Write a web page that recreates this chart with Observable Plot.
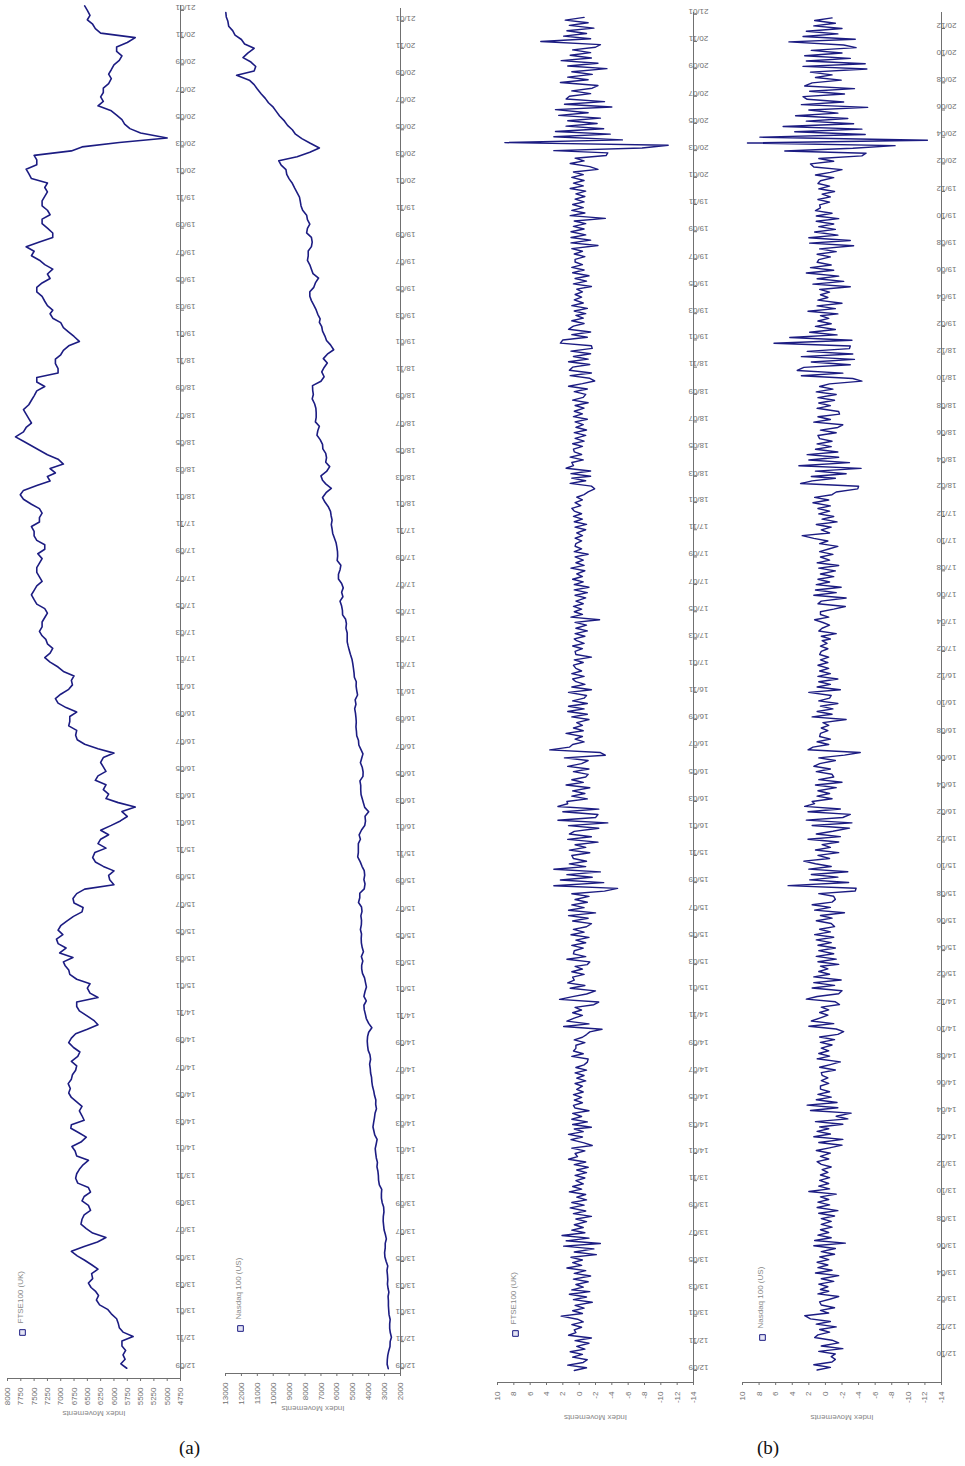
<!DOCTYPE html>
<html><head><meta charset="utf-8">
<script src="https://cdn.jsdelivr.net/npm/d3@7"></script>
<script src="https://cdn.jsdelivr.net/npm/@observablehq/plot@0.6"></script>
<style>
body{margin:0;background:#fff;width:965px;height:1466px;position:relative;overflow:hidden;font-family:"Liberation Sans",Arial,sans-serif}
.p{position:absolute;top:0}
.cap{position:absolute;top:1437px;font-family:"Liberation Serif","Times New Roman",serif;font-size:19px;color:#111}
</style></head><body>
<div id="p1" class="p" style="left:0px"></div>
<div id="p2" class="p" style="left:215px"></div>
<div id="p3" class="p" style="left:487px"></div>
<div id="p4" class="p" style="left:732px"></div>
<div class="cap" style="left:179px">(a)</div>
<div class="cap" style="left:757px">(b)</div>
<script>
// ---- Data, levels: 3 readings per month from Sep 2012 to Jan 2021
const ftseLevel = [
5760,5870,5790, 5830,5780,5850, 5850,5640,5830, 5900,5920,5950,
6050,6120,6270, 6330,6290,6350, 6430,6480,6400, 6420,6300,6420, 6550,6690,6800, 6560,6310,6150, 6400,6520,6620, 6600,6560,6440, 6480,6600,6560, 6440,6480,6680, 6720,6700,6650, 6580,6480,6700,
6730,6790,6620, 6520,6660,6810, 6800,6560,6600, 6650,6600,6700, 6800,6850,6820, 6860,6800,6780, 6720,6700,6800, 6680,6640,6760, 6850,6800,6720, 6500,6300,6380, 6520,6650,6700, 6700,6300,6450,
6500,6450,6700, 6830,6850,6920, 6950,6770,7020, 6900,7050,7080, 6960,7050,7000, 6880,6760,6600, 6580,6750,6770, 6700,6550,6000, 6080,6100,6000, 6200,6350,6400, 6360,6150,6300, 6250,6100,6250,
6050,5880,5750, 5850,5600,5920, 6150,6100,6200, 6150,6350,6300, 6150,6200,6250, 6200,6000,6300, 6550,6690,6720, 6700,6850,6830, 6830,6700,6900, 7050,7100,7000, 6850,6780,6800, 6750,6950,7050,
7200,7300,7200, 7150,7250,7280, 7350,7400,7350, 7350,7300,7250, 7300,7450,7500, 7550,7500,7450, 7350,7400,7450, 7450,7400,7350, 7430,7300,7300, 7450,7500,7500, 7550,7400,7400, 7350,7400,7550,
7700,7760,7700, 7450,7200,7250, 7100,7200,6950, 7050,7250,7400, 7550,7700,7850, 7700,7650,7550, 7600,7650,7700, 7600,7550,7500, 7450,7300,7450, 7450,7050,7050, 7100,7100,7000, 6950,6850,6650,
6750,6850,6950, 7000,7150,7200, 7150,7250,7300, 7350,7450,7450, 7350,7200,7250, 7150,7300,7400, 7550,7500,7650, 7400,7150,7150, 7250,7350,7350, 7200,7250,7350, 7350,7300,7250, 7300,7250,7550,
7600,7650,7450, 7450,7500,6800, 6600,5900,5000, 5500,5700,5800, 5850,5950,6050, 6300,6200,6250, 6200,6200,6100, 6050,6100,6050, 6000,5900,5850, 5950,5950,5750, 5600,6250,6350, 6400,6500,6450,
6500,6550
];
const nasdaqLevel = [
2770,2840,2830, 2800,2740,2660, 2650,2570,2640, 2680,2680,2650,
2720,2740,2760, 2760,2780,2730, 2780,2820,2800, 2820,2850,2800, 2900,2980,3000, 2960,2960,2890, 2950,3030,3060, 3090,3080,3040, 3060,3150,3200, 3200,3180,3330, 3380,3390,3420, 3480,3450,3520,
3560,3590,3530, 3470,3620,3680, 3730,3690,3640, 3600,3510,3560, 3550,3630,3680, 3760,3800,3820, 3880,3900,3940, 3880,3920,4030, 4070,4090,4070, 4000,3800,4000, 4150,4210,4280, 4300,4150,4300,
4230,4140,4200, 4260,4390,4440, 4440,4370,4460, 4330,4410,4460, 4470,4450,4520, 4460,4450,4490, 4420,4450,4640, 4560,4560,4280, 4230,4300,4250, 4280,4420,4530, 4690,4650,4650, 4650,4520,4600,
4450,4250,4200, 4230,4000,4250, 4320,4400,4480, 4500,4500,4550, 4360,4350,4400, 4520,4440,4360, 4490,4620,4640, 4750,4770,4800, 4780,4800,4830, 4880,4800,4850, 4700,4750,4790, 4780,4900,4920,
4960,5000,5050, 5150,5230,5300, 5350,5350,5350, 5430,5400,5450, 5640,5650,5700, 5800,5620,5700, 5600,5700,5900, 5900,5800,5750, 5980,5950,5960, 6000,6050,6150, 6260,6300,6350, 6300,6360,6400,
6550,6750,6900, 6680,6350,6700, 6900,7000,6650, 6450,6700,6650, 6700,6880,6900, 7050,7250,7200, 7100,7350,7300, 7300,7320,7400, 7550,7480,7520, 7530,7000,6800, 6950,6800,6600, 6850,6600,6200,
6400,6650,6750, 6900,6950,7100, 7050,7200,7300, 7450,7600,7700, 7700,7450,7350, 7150,7500,7600, 7700,7850,7800, 7800,7600,7550, 7600,7900,7850, 7700,7850,7900, 8150,8250,8300, 8350,8500,8650,
8800,9000,9150, 9200,9500,9650, 8500,7700,7100, 7700,8200,8600, 8800,9100,9300, 9600,9800,10000, 10300,10500,10750, 11000,11200,11500, 12300,11200,11100, 11400,11900,11600, 11200,11800,12000, 12400,12550,12800,
12850,12950,12980
];
// ---- Daily movements (%): 5 readings per month from Sep 2012 to Dec 2020
const ftseMoves = [
0.6,-0.9,1.4,-0.5,-1.0, 0.8,-0.4,1.1,-0.7,0.3, -1.2,0.5,-1.5,1.3,0.4, 0.6,-0.3,0.9,-0.5,0.2,
2.2,-0.4,0.8,-0.6,0.5, -1.6,0.7,-0.9,1.2,-1.3, 0.9,-0.5,0.4,-1.1,0.7, -1.4,0.6,-0.8,1.5,-0.3, 0.8,-0.4,1.0,-2.1,0.6, -1.8,1.9,-2.6,1.6,-1.2,
2.1,-0.7,0.9,-0.5,0.6, -0.9,0.4,-1.5,0.7,-0.8, 1.1,-0.6,0.9,-0.9,0.3, -0.8,1.2,-0.3,0.8,-0.5, 0.4,-0.7,0.5,-0.9,0.3, -1.1,0.6,-0.8,1.3,0.2,
0.5,-0.7,0.9,-1.6,-0.6, 1.0,-0.4,1.3,-0.5,0.6, -1.5,0.8,-1.0,0.9,-0.3, 0.8,-1.2,0.5,0.7,-0.4, 0.6,-0.3,0.7,-0.5,0.3, -0.4,0.5,-0.8,0.3,-0.6,
0.5,-0.9,0.4,-0.6,-1.0, -1.1,0.9,-0.5,0.7,0.4, 0.4,-0.7,0.6,-0.4,-0.9, -1.3,-2.8,1.9,-1.2,1.5, 0.6,-0.4,0.8,-0.3,0.5, -1.8,-2.4,2.4,0.8,-0.9,
-2.0,1.1,-0.7,1.4,0.6, 0.8,-0.6,0.9,-0.4,0.5, -1.0,-1.3,1.5,-0.8,0.7, 0.6,-0.5,0.9,-0.8,0.4, -1.2,1.0,-0.6,0.7,-0.9, -1.5,0.8,-1.1,1.3,-2.0,
1.3,-0.6,0.9,-1.0,0.5, -1.2,0.9,-3.1,-4.7,3.1, -3.0,2.3,-1.6,1.5,-2.6, 3.1,-0.8,1.2,-0.9,0.7, 0.9,-1.3,1.2,-0.8,0.5, -2.3,1.4,-1.5,1.2,0.6,
-2.4,1.3,-3.5,2.6,-2.0, -2.3,2.0,-2.4,2.6,1.4, 1.5,-1.0,0.9,-0.7,0.8, -1.3,1.6,-0.5,0.9,-0.8, -1.1,0.7,-1.2,1.4,-0.3, -1.1,1.8,-3.2,-2.6,3.6,
1.2,0.8,-0.6,0.5,-0.4, 1.6,-0.5,0.7,-0.4,0.3, -1.2,0.9,-1.0,1.4,-0.6, 1.3,-1.0,0.8,-0.6,-0.9, 1.3,-1.5,0.9,-0.7,0.4, 0.8,-0.6,0.9,-0.3,0.4,
0.7,-0.5,0.6,-1.5,0.4, 0.5,-0.4,0.8,-0.6,0.3, 0.6,-0.7,0.5,-1.0,0.4, -0.9,0.5,-2.5,1.0,-0.4, 0.6,-0.3,0.7,-0.5,0.4, -0.8,0.5,-1.0,0.6,-1.2,
0.6,-0.5,0.8,-0.4,0.3, -0.7,1.0,-0.6,0.4,-0.5, 0.5,-1.1,0.6,-0.3,0.5, 0.4,-0.3,0.5,-0.4,0.3, -0.8,0.5,-0.9,0.6,-0.4, 0.7,-0.3,0.6,0.9,-0.2,
0.5,-0.4,0.3,-0.6,-1.1, -1.9,-1.5,1.1,-0.8,0.9, -1.4,1.0,-1.4,1.6,0.7, 0.9,-0.5,1.1,-0.3,0.6, 0.7,-0.4,0.8,-0.6,0.5, -0.8,0.6,-0.9,0.4,-0.5,
0.5,-1.0,0.7,-0.4,0.6, -0.6,0.5,-1.1,0.8,-0.5, -0.8,0.6,-1.0,1.3,-0.4, -1.9,-1.3,1.1,-1.5,1.2, 0.8,-1.3,1.3,-1.1,0.7, -1.4,1.0,-1.6,-1.5,2.3,
2.0,-1.0,0.9,-1.4,1.3, 0.7,-0.6,0.9,-0.5,0.4, -0.8,0.6,-1.0,0.9,-0.5, 0.6,-0.3,0.5,-0.4,0.3, -1.5,0.7,-0.9,0.5,-1.2, 0.8,-0.6,0.9,-0.4,0.5,
0.5,-0.7,0.6,-0.4,0.9, -2.3,1.0,-1.4,1.0,-0.8, 1.0,-0.6,0.7,-0.8,0.6, -3.2,1.1,-0.7,0.9,-0.5, 0.8,-0.6,0.5,-0.7,0.4, -0.8,1.1,-0.5,0.7,-0.6,
0.9,-0.5,0.7,-2.3,-1.3, 1.1,-0.6,0.5,-3.3,-3.5, 3.1,-7.7,-10.9,9.1,-5.3, 3.1,-3.8,2.9,-3.0,1.6, -2.2,1.4,-2.6,2.5,-1.1, 2.9,-4.0,1.8,-3.1,1.6,
1.2,-1.4,0.9,-1.6,-2.3, 2.3,-1.1,1.4,-1.6,0.9, -3.4,1.4,-2.3,2.2,-1.5, 1.1,-1.4,0.8,-2.0,-2.6, 4.7,-1.4,1.9,-0.9,1.5, -1.8,1.2,-1.1,1.7,-0.6
];
const nasdaqMoves = [
1.0,-0.6,1.4,-0.8,-1.2, -0.7,-1.2,0.8,-2.1,0.5, -1.6,-0.8,1.3,0.9,-0.5, 0.7,-1.3,1.1,-0.6,1.8,
2.5,-0.4,0.6,-1.1,0.5, 0.7,-0.5,-1.6,0.9,-0.4, 0.6,-0.3,0.8,-1.0,0.5, -1.6,1.2,-0.8,0.9,-0.3, 1.0,-0.4,0.7,-1.1,0.5, -1.2,1.4,-2.4,1.3,-0.7,
0.9,-0.4,0.6,-0.8,0.5, -0.7,0.5,-1.1,0.8,-1.5, 1.0,-0.5,0.9,-0.4,0.6, -1.3,2.0,-0.5,0.8,-0.4, 0.7,-0.5,0.6,-0.3,0.4, -0.7,0.5,1.0,-0.4,0.6,
-0.6,1.1,-0.5,-2.0,0.8, -2.1,1.4,-0.6,1.0,-0.4, 0.7,-2.1,1.2,-2.7,-1.3, -3.1,1.8,-1.5,2.2,-1.4, 1.1,-0.7,0.9,-0.5,0.6, 0.6,-0.4,0.5,-0.3,0.4,
0.5,-1.2,0.7,-0.6,-1.8, 1.0,-0.5,0.8,-0.4,0.5, -0.8,0.6,-1.1,0.7,-1.5, -2.2,-1.3,2.0,-1.0,1.7, 0.6,-0.3,0.7,-0.4,0.5, -1.7,-1.2,2.3,1.0,-1.6,
-2.0,1.6,-1.1,1.4,-1.9, 1.4,-0.5,0.8,-0.3,0.6, -1.6,0.9,-1.3,1.1,-1.0, 0.8,-1.2,0.9,-0.7,1.1, -1.0,1.3,-0.6,0.7,-1.1, -0.7,1.1,-0.8,0.6,-2.3,
1.3,-0.6,1.6,-0.8,-1.2, -1.0,0.8,-3.6,-3.7,4.5, -2.8,1.9,-1.5,1.7,-2.7, 2.0,-0.7,1.2,2.6,-0.5, 0.9,-1.6,1.2,-0.6,0.4, -1.6,2.1,-1.8,1.1,-0.9,
-2.9,1.6,-3.2,2.3,-2.1, -3.0,2.1,-1.8,2.5,1.3, 1.6,-0.8,1.0,-0.5,0.9, -1.3,1.2,-2.0,0.8,-1.0, -0.8,1.1,-0.6,1.4,0.7, -1.2,0.8,-2.3,-4.2,2.1,
1.5,-0.4,1.0,-0.6,0.7, 0.6,-0.3,0.5,-0.4,0.3, -2.5,1.6,-0.8,1.0,-0.9, 0.6,-1.5,0.8,-0.5,-0.7, 2.0,-1.8,1.0,-0.6,0.8, -1.5,0.9,-0.6,0.7,-0.4,
0.9,-0.3,0.6,-0.4,0.7, 0.5,-0.3,0.6,-0.2,0.4, -0.6,0.5,-1.3,0.8,0.4, -0.5,0.3,1.3,-0.4,0.6, 0.6,-1.0,-2.4,0.9,0.5, -2.5,1.4,-1.3,1.2,-1.9,
1.1,-0.5,0.9,-1.0,0.6, -1.2,0.8,-1.6,1.0,-0.5, 0.6,-0.9,0.7,-0.4,-1.5, 0.7,-0.3,1.4,2.8,-0.5, 0.5,-0.7,1.1,-1.4,0.4, -1.0,0.8,-0.5,0.9,-0.6,
1.5,-0.4,1.3,-0.8,-1.3, -3.9,-4.0,3.0,1.6,-1.2, 1.7,-2.5,1.2,-4.3,3.2, -2.9,2.0,-1.6,2.2,-1.5, 1.2,-0.7,1.0,-0.8,0.7, 0.9,-1.3,0.6,-1.5,-2.1,
1.4,-0.6,0.9,-1.7,-1.6, 1.0,-0.6,0.8,-1.1,0.9, -1.3,1.1,-0.9,0.7,-0.5, -4.4,-3.3,2.9,-2.1,3.4, 2.6,-3.0,1.7,-3.5,2.9, -3.3,2.2,-2.9,-3.0,6.2,
-3.2,4.3,-1.4,1.9,-1.2, 1.2,-0.7,0.9,-0.4,0.6, -1.5,2.1,-1.2,1.0,-2.0, 0.9,-0.3,0.6,-0.5,0.7, -3.0,1.5,-2.2,1.0,-1.6, 2.3,-1.0,1.8,-0.7,1.0,
0.8,-0.6,1.0,-1.3,0.7, -3.4,1.9,-3.0,2.0,-1.5, 1.3,-1.2,0.8,-1.0,1.1, -1.6,1.1,-0.8,1.2,0.6, 0.7,-0.5,0.9,-0.6,0.4, -1.1,0.8,-0.5,0.9,0.6,
-1.0,1.2,-0.6,-2.0,1.4, 1.8,-1.0,0.8,-4.4,-4.9, 4.9,-3.3,-8.4,9.4,-12.3, 7.9,-4.8,3.7,-4.4,5.1, -3.4,2.3,-2.7,3.6,-1.5, 2.0,-5.1,2.9,-2.2,2.2,
2.7,-2.3,1.9,-3.5,2.5, 1.6,-1.9,1.2,-0.8,1.8, -5.0,2.7,-4.8,2.3,-3.0, 2.5,-2.0,1.7,-3.7,-2.2, 4.4,-3.6,2.7,-1.5,2.3, -2.0,1.4,-1.2,1.3,-0.8
];
const ftseTicks = [8000,7750,7500,7250,7000,6750,6500,6250,6000,5750,5500,5250,5000,4750];
const nasdaqTicks = [13000,12000,11000,10000,9000,8000,7000,6000,5000,4000,3000,2000];
const moveTicks = [10,8,6,4,2,0,-2,-4,-6,-8,-10,-12,-14];
const legendNames = ["FTSE100 (UK)", "Nasdaq 100 (US)", "FTSE100 (UK)", "Nasdaq 100 (US)"];
const axisTitle = "Index Movements";

// ---- tables
const levelDate = k => new Date(Date.UTC(2012, 8 + Math.floor(k / 3), 1 + (k % 3) * 10));
const moveDate = k => new Date(Date.UTC(2012, 8 + Math.floor(k / 5), 1 + (k % 5) * 6));
const ftseL = ftseLevel.map((v, k) => ({date: levelDate(k), v}));
const nasL = nasdaqLevel.map((v, k) => ({date: levelDate(k), v}));
const ftseM = ftseMoves.map((v, k) => ({date: moveDate(k), v}));
const nasM = nasdaqMoves.map((v, k) => ({date: moveDate(k), v}));

const oddTicks = d3.utcMonth.range(new Date(Date.UTC(2012, 8, 1)), new Date(Date.UTC(2021, 0, 2)), 2);
const evenTicks = d3.utcMonth.range(new Date(Date.UTC(2012, 9, 1)), new Date(Date.UTC(2020, 11, 2)), 2);
const U = (y, m, d) => new Date(Date.UTC(y, m - 1, d));
const ink = "#1c1c82";

function panel(id, o) {
  const chart = Plot.plot({
    width: o.width, height: o.bottom + 58,
    marginLeft: o.ml, marginRight: o.mr, marginTop: o.top, marginBottom: 58,
    style: {fontFamily: "'Liberation Sans', Arial, sans-serif", fontSize: "8px", color: "#707070", background: "transparent", overflow: "visible"},
    x: {domain: o.xDomain, ticks: o.xTicks, tickFormat: d => String(d), tickRotate: -90, tickSize: 3, label: null, line: true},
    y: {type: "utc", domain: o.yDomain, ticks: o.yTicks, tickFormat: d3.utcFormat("%y/%m"), tickRotate: 180, tickSize: 3, axis: "right", label: null, line: true},
    marks: [
      Plot.line(o.data, {x: "v", y: "date", stroke: ink, strokeWidth: o.sw}),
      Plot.text([o.legend], {frameAnchor: "bottom-left", rotate: -90, textAnchor: "start", dx: o.ldx, dy: o.ldy - 9, fill: "#888", fontSize: 8}),
      Plot.dot([0], {frameAnchor: "bottom-left", dx: o.ldx, dy: o.ldy, symbol: "square", r: 3.2, stroke: ink, fill: "#e4e4f4", strokeWidth: 1}),
      Plot.text([axisTitle], {frameAnchor: "bottom", rotate: 180, dy: 32, fill: "#888", fontSize: 8})
    ]
  });
  document.getElementById(id).appendChild(chart);
}

panel("p1", {data: ftseL, sw: 1.6, width: 220, ml: 7, mr: 40, top: 5, bottom: 1378,
  xDomain: [8000, 4750], xTicks: ftseTicks, yDomain: [U(2012, 8, 9), U(2021, 1, 12)], yTicks: oddTicks,
  legend: legendNames[0], ldx: 15, ldy: -46});
panel("p2", {data: nasL, sw: 1.6, width: 220, ml: 10, mr: 35, top: 8, bottom: 1373,
  xDomain: [13000, 2000], xTicks: nasdaqTicks, yDomain: [U(2012, 8, 21), U(2021, 1, 30)], yTicks: oddTicks,
  legend: legendNames[1], ldx: 15, ldy: -45});
panel("p3", {data: ftseM, sw: 1.4, width: 241, ml: 10, mr: 35, top: 12, bottom: 1382,
  xDomain: [10, -14], xTicks: moveTicks, yDomain: [U(2012, 8, 5), U(2021, 1, 5)], yTicks: oddTicks,
  legend: legendNames[2], ldx: 18, ldy: -49});
panel("p4", {data: nasM, sw: 1.4, width: 233, ml: 10, mr: 24, top: 12, bottom: 1382,
  xDomain: [10, -14], xTicks: moveTicks, yDomain: [U(2012, 8, 4), U(2021, 1, 6)], yTicks: evenTicks,
  legend: legendNames[3], ldx: 20, ldy: -45});
</script>
</body></html>
